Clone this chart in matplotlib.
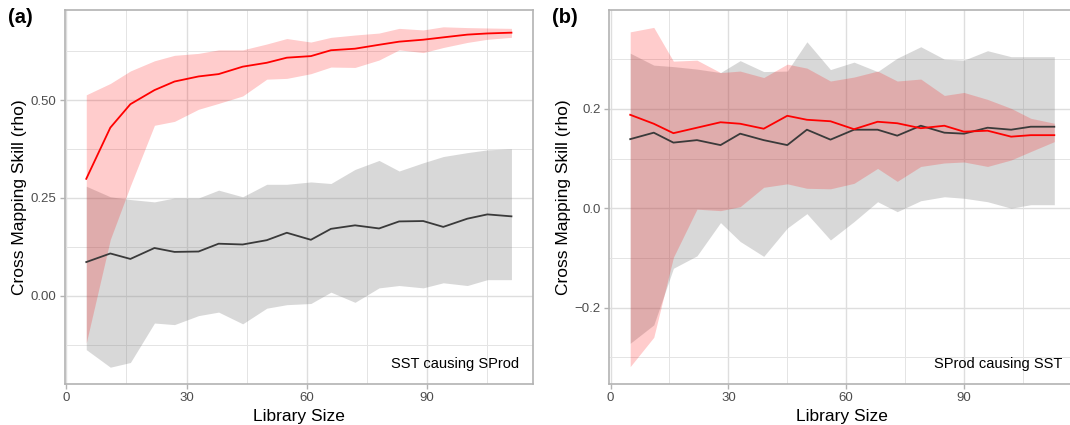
#!/usr/bin/env python3
"""
Cross mapping skill vs library size, two panels:
 (a) SST causing SProd
 (b) SProd causing SST
"""
import numpy as np
import matplotlib.pyplot as plt
from matplotlib.ticker import MultipleLocator

plt.rcParams["font.family"] = ["Liberation Sans", "DejaVu Sans"]

# ---- data ----
lib_a = [5, 11, 16, 22, 27, 33, 38, 44, 50, 55, 61, 66, 72, 78, 83, 89, 94, 100, 105, 111]
lib_b = [5, 11, 16, 22, 28, 33, 39, 45, 50, 56, 62, 68, 73, 79, 85, 90, 96, 102, 107, 113]

# panel (a): SST causing SProd
rho_a = [0.299, 0.430, 0.490, 0.526, 0.548, 0.561, 0.567, 0.586, 0.596, 0.609,
         0.613, 0.628, 0.632, 0.642, 0.650, 0.655, 0.661, 0.668, 0.671, 0.673]
rho_a_hi = [0.514, 0.543, 0.575, 0.601, 0.615, 0.620, 0.629, 0.629, 0.644, 0.658,
            0.649, 0.661, 0.667, 0.672, 0.684, 0.680, 0.688, 0.686, 0.685, 0.684]
rho_a_lo = [-0.121, 0.144, 0.281, 0.436, 0.446, 0.477, 0.492, 0.511, 0.554, 0.556,
            0.568, 0.585, 0.584, 0.603, 0.629, 0.622, 0.635, 0.648, 0.656, 0.661]
null_a = [0.086, 0.108, 0.094, 0.122, 0.112, 0.113, 0.133, 0.131, 0.142, 0.161,
          0.143, 0.171, 0.180, 0.172, 0.190, 0.191, 0.176, 0.197, 0.208, 0.203]
null_a_hi = [0.280, 0.253, 0.246, 0.240, 0.250, 0.250, 0.270, 0.253, 0.285, 0.285,
             0.291, 0.287, 0.323, 0.346, 0.319, 0.340, 0.356, 0.366, 0.373, 0.376]
null_a_lo = [-0.138, -0.183, -0.171, -0.070, -0.074, -0.051, -0.042, -0.072, -0.032, -0.023,
             -0.020, 0.009, -0.017, 0.020, 0.026, 0.020, 0.033, 0.026, 0.041, 0.041]

# panel (b): SProd causing SST
rho_b = [0.188, 0.170, 0.151, 0.162, 0.173, 0.170, 0.160, 0.186, 0.178, 0.175,
         0.159, 0.174, 0.171, 0.161, 0.166, 0.154, 0.156, 0.144, 0.147, 0.147]
rho_b_hi = [0.355, 0.364, 0.296, 0.298, 0.273, 0.276, 0.263, 0.290, 0.282, 0.256,
            0.264, 0.276, 0.256, 0.260, 0.227, 0.233, 0.219, 0.201, 0.181, 0.171]
rho_b_lo = [-0.319, -0.260, -0.099, -0.002, -0.005, 0.003, 0.042, 0.049, 0.040, 0.039,
            0.050, 0.080, 0.054, 0.084, 0.091, 0.093, 0.084, 0.097, 0.114, 0.134]
null_b = [0.139, 0.152, 0.132, 0.137, 0.127, 0.150, 0.137, 0.127, 0.158, 0.138,
          0.158, 0.158, 0.146, 0.166, 0.152, 0.150, 0.162, 0.158, 0.164, 0.164]
null_b_hi = [0.312, 0.288, 0.285, 0.280, 0.273, 0.297, 0.275, 0.276, 0.335, 0.279,
             0.294, 0.275, 0.302, 0.325, 0.300, 0.298, 0.317, 0.305, 0.305, 0.305]
null_b_lo = [-0.272, -0.235, -0.121, -0.096, -0.029, -0.067, -0.097, -0.040, -0.011, -0.064,
             -0.027, 0.013, -0.007, 0.015, 0.023, 0.020, 0.013, 0.000, 0.007, 0.007]

W, H = 1070, 425


def panel(rect, lib, rho, lo, hi, nul, nlo, nhi, xlim, ylim, ymaj, fmt, tag, note, note_x):
    ax = fig.add_axes(rect)
    ax.fill_between(lib, nlo, nhi, color="#7f7f7f", alpha=0.3, lw=0, zorder=2)
    ax.fill_between(lib, lo, hi, color="red", alpha=0.2, lw=0, zorder=3)
    ax.plot(lib, nul, color="#3a3a3a", lw=1.3, zorder=4)
    ax.plot(lib, rho, color="red", lw=1.3, zorder=5)
    ax.set_xlim(*xlim); ax.set_ylim(*ylim)
    ax.xaxis.set_major_locator(MultipleLocator(30))
    ax.xaxis.set_minor_locator(MultipleLocator(15))
    ax.yaxis.set_major_locator(MultipleLocator(ymaj))
    ax.yaxis.set_minor_locator(MultipleLocator(ymaj / 2))
    ax.yaxis.set_major_formatter(plt.FuncFormatter(lambda v, p: fmt.format(v).replace("-", "\u2212")))
    ax.grid(True, which="major", color="#dedede", lw=1.0, zorder=0)
    ax.grid(True, which="minor", color="#e4e4e4", lw=0.7, zorder=0)
    ax.set_axisbelow(True)
    for s in ax.spines.values():
        s.set_color("#b3b3b3"); s.set_linewidth(1.2)
    ax.tick_params(which="major", length=3.5, width=1.0, color="#b3b3b3",
                   labelcolor="#4d4d4d", labelsize=9.5, pad=2.5)
    ax.tick_params(which="minor", length=0)
    ax.set_xlabel("Library Size", fontsize=12.5, labelpad=3)
    ax.set_ylabel("Cross Mapping Skill (rho)", fontsize=12.5, labelpad=2.5)
    ax.text(note_x, 0.035, note, transform=ax.transAxes, ha="right", va="bottom",
            fontsize=10.5, color="black")
    fig.text(rect[0] - 57 / W, 0.958, tag, fontsize=14.5, fontweight="bold", va="center")
    return ax


fig = plt.figure(figsize=(W / 100, H / 100), dpi=100)

panel([65 / W, 41 / H, (532.7 - 65) / W, 374 / H], lib_a, rho_a, rho_a_lo, rho_a_hi,
      null_a, null_a_lo, null_a_hi, (-0.3, 116.3), (-0.226, 0.731), 0.25, "{:.2f}",
      "(a)", "SST causing SProd", 0.971)
panel([609 / W, 41 / H, (1075.5 - 609) / W, 374 / H], lib_b, rho_b, rho_b_lo, rho_b_hi,
      null_b, null_b_lo, null_b_hi, (-0.4, 118.4), (-0.354, 0.399), 0.2, "{:.1f}",
      "(b)", "SProd causing SST", 0.972)

fig.savefig("out.png", dpi=100)
